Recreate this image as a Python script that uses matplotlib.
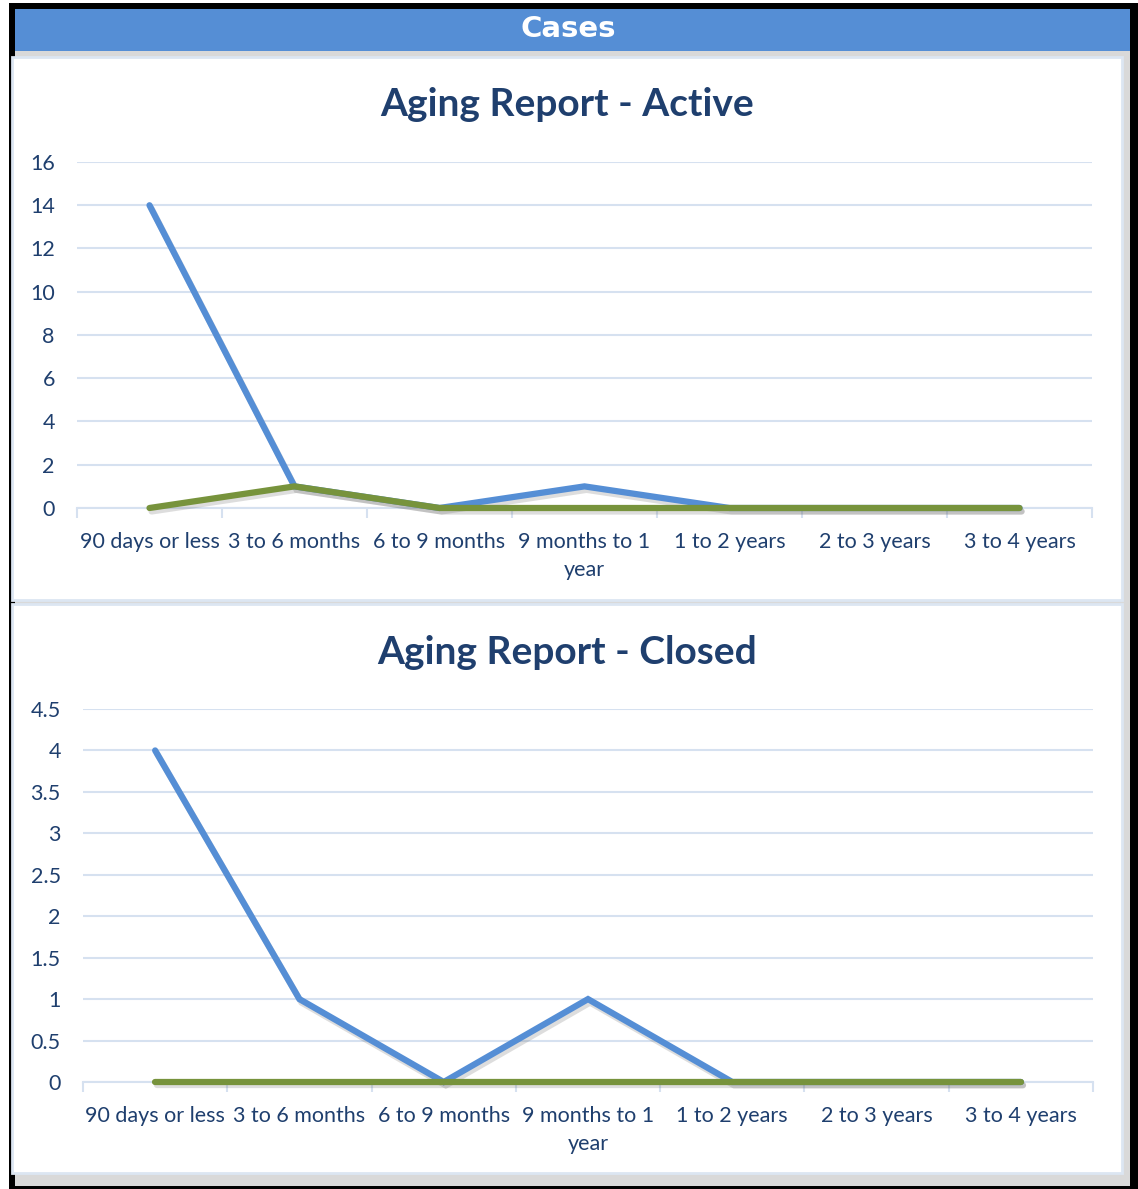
import matplotlib.pyplot as plt
from matplotlib.patches import Rectangle
import matplotlib.patheffects as pe
import numpy as np

categories = ["90 days or less", "3 to 6 months", "6 to 9 months",
              "9 months to 1\nyear", "1 to 2 years", "2 to 3 years", "3 to 4 years"]
active_blue = [14, 1, 0, 1, 0, 0, 0]
active_green = [0, 1, 0, 0, 0, 0, 0]
closed_blue = [4, 1, 0, 1, 0, 0, 0]
closed_green = [0, 0, 0, 0, 0, 0, 0]

W, H = 1138, 1189
BLUE = "#558ed5"
GREEN = "#77933c"
TEXT = "#1f3f6e"
GRID = "#d6e1f0"

fig = plt.figure(figsize=(W / 100, H / 100), dpi=100)
fig.patch.set_facecolor("white")


def rect(x0, y0, x1, y1, **kw):
    # pixel box (top-left origin) -> figure rectangle, kept under the axes
    fig.patches.append(Rectangle((x0 / W, 1 - y1 / H), (x1 - x0) / W, (y1 - y0) / H,
                                 transform=fig.transFigure, zorder=-10, **kw))


def axes(x0, y0, x1, y1):
    ax = fig.add_axes([x0 / W, 1 - y1 / H, (x1 - x0) / W, (y1 - y0) / H])
    ax.set_facecolor("none")
    return ax


# frame, header and grey background
rect(9, 3, 1138, 1189, facecolor="black", lw=0)
rect(15, 9, 1130, 1186, facecolor="#d9d9d9", lw=0)
rect(15, 9, 1130, 51, facecolor="#558ed5", lw=0)
fig.text(568 / W, 1 - 29 / H, "Cases", color="white", fontsize=21, fontweight="bold",
         family="DejaVu Sans", ha="center", va="center")

# white chart panels
rect(12, 57, 1122, 600, facecolor="white", edgecolor="#dce6f2", lw=2)
rect(12, 604, 1122, 1173, facecolor="white", edgecolor="#dce6f2", lw=2)

shadow = [pe.SimpleLineShadow(offset=(1.5, -2.5), shadow_color="#666666", alpha=0.22),
          pe.Normal()]


def draw(ax, blue, green, yticks, labels, title, title_y):
    x = np.arange(len(categories))
    ax.plot(x, blue, color=BLUE, lw=4.5, solid_capstyle="round",
            solid_joinstyle="miter", path_effects=shadow, zorder=3, clip_on=False)
    ax.plot(x, green, color=GREEN, lw=4.5, solid_capstyle="round",
            solid_joinstyle="miter", path_effects=shadow, zorder=4, clip_on=False)
    ax.set_xlim(-0.5, len(categories) - 0.5)
    ax.set_ylim(yticks[0], yticks[-1])
    ax.set_yticks(yticks)
    ax.set_yticklabels(labels)
    ax.grid(axis="y", color=GRID, lw=1.5, zorder=0)
    ax.set_axisbelow(True)
    for s in ["top", "right", "left"]:
        ax.spines[s].set_visible(False)
    ax.spines["bottom"].set_color(GRID)
    ax.spines["bottom"].set_linewidth(1.5)
    ax.set_xticks(np.arange(-0.5, len(categories)), minor=False)
    ax.set_xticklabels([])
    ax.set_xticks(x, minor=True)
    ax.set_xticklabels(categories, minor=True, ha="center", va="top",
                       linespacing=1.5)
    ax.tick_params(axis="x", which="major", length=7, color=GRID, width=1.5)
    ax.tick_params(axis="x", which="minor", length=0, pad=17, labelsize=15.5,
                   labelcolor=TEXT)
    ax.tick_params(axis="y", length=0, pad=16, labelsize=15.5, labelcolor=TEXT)
    for t in ax.get_xticklabels(minor=True) + ax.get_yticklabels():
        t.set_family("Lato")
    fig.text(567 / W, 1 - title_y / H, title, color=TEXT, fontsize=28,
             fontweight="bold", family="Lato", ha="center", va="center")


ax1 = axes(77, 162, 1092, 508)
draw(ax1, active_blue, active_green, [0, 2, 4, 6, 8, 10, 12, 14, 16],
     ["0", "2", "4", "6", "8", "10", "12", "14", "16"],
     "Aging Report - Active", 105)

ax2 = axes(83, 709, 1093, 1082)
draw(ax2, closed_blue, closed_green, [0, 0.5, 1, 1.5, 2, 2.5, 3, 3.5, 4, 4.5],
     ["0", "0.5", "1", "1.5", "2", "2.5", "3", "3.5", "4", "4.5"],
     "Aging Report - Closed", 652)

fig.savefig("out.png", dpi=100)
